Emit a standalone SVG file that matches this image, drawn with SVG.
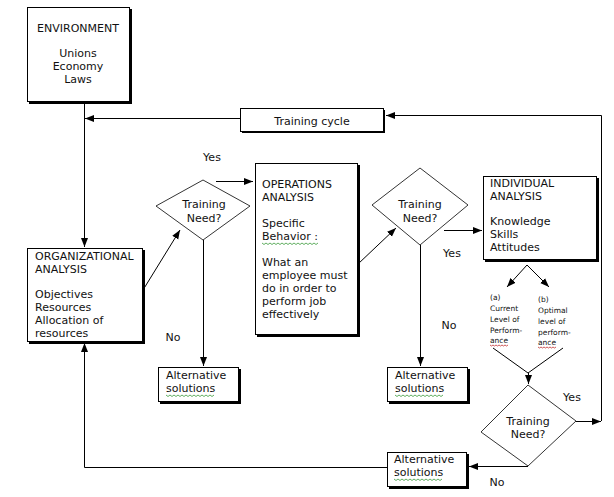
<svg xmlns="http://www.w3.org/2000/svg" width="614" height="497" viewBox="0 0 614 497">
<style>
text{font-family:"DejaVu Sans",Verdana,sans-serif;font-size:11px;fill:#111}
.c{text-anchor:middle}
.s{font-size:7.5px}
.box{fill:#fff;stroke:#000;stroke-width:1}
.sh{fill:#000}
.ln{fill:none;stroke:#000;stroke-width:1}
.dm{fill:#fff;stroke:#000;stroke-width:0.8}
.wg{fill:none;stroke:#3a9a3a;stroke-width:0.8}
.wr{fill:none;stroke:#c03030;stroke-width:0.8}
</style>
<defs>
<marker id="ah" markerWidth="10" markerHeight="8" refX="9" refY="4" orient="auto" markerUnits="userSpaceOnUse">
<path d="M0,0.5 L9,4 L0,7.5 Z" fill="#000"/>
</marker>
</defs>
<rect width="614" height="497" fill="#fff"/>

<g id="environment">
<rect class="sh" x="29" y="9" width="103" height="95"/>
<rect class="box" x="27.5" y="7.5" width="102" height="94"/>
<text class="c" x="78" y="32">ENVIRONMENT</text>
<text class="c" x="78" y="57">Unions</text>
<text class="c" x="78" y="70">Economy</text>
<text class="c" x="78" y="83">Laws</text>
</g>

<g id="training-cycle">
<rect class="sh" x="242" y="110" width="143" height="23"/>
<rect class="box" x="240.5" y="108.5" width="143" height="23"/>
<text class="c" x="312" y="125">Training cycle</text>
</g>

<g id="organizational">
<rect class="sh" x="29" y="250" width="116" height="94"/>
<rect class="box" x="27.5" y="248.5" width="115" height="93"/>
<text x="35" y="260">ORGANIZATIONAL</text>
<text x="35" y="273">ANALYSIS</text>
<text x="35" y="298">Objectives</text>
<text x="35" y="311">Resources</text>
<text x="35" y="324">Allocation of</text>
<text x="35" y="337">resources</text>
</g>

<g id="decision1">
<polygon class="dm" points="203,180 250,206 203,240 156,206"/>
<text class="c" x="204" y="208">Training</text>
<text class="c" x="204" y="222">Need?</text>
</g>

<g id="operations">
<rect class="sh" x="257" y="165" width="103" height="172"/>
<rect class="box" x="255.5" y="163.5" width="102" height="171"/>
<text x="262" y="188">OPERATIONS</text>
<text x="262" y="201">ANALYSIS</text>
<text x="262" y="227">Specific</text>
<text x="262" y="240">Behavior :</text>
<path class="wg" d="M262,243 l2,1.5 l2,-1.5 l2,1.5 l2,-1.5 l2,1.5 l2,-1.5 l2,1.5 l2,-1.5 l2,1.5 l2,-1.5 l2,1.5 l2,-1.5 l2,1.5 l2,-1.5 l2,1.5 l2,-1.5 l2,1.5 l2,-1.5 l2,1.5 l2,-1.5 l2,1.5 l2,-1.5 l2,1.5 l2,-1.5 l2,1.5 l2,-1.5 l2,1.5 l2,-1.5"/>
<text x="262" y="266">What an</text>
<text x="262" y="279">employee must</text>
<text x="262" y="292">do in order to</text>
<text x="262" y="305">perform job</text>
<text x="262" y="318">effectively</text>
</g>

<g id="decision2">
<polygon class="dm" points="420,168 468,205 420,245 372,205"/>
<text class="c" x="420" y="208">Training</text>
<text class="c" x="420" y="222">Need?</text>
</g>

<g id="individual">
<rect class="sh" x="485" y="178" width="114" height="84"/>
<rect class="box" x="483.5" y="176.5" width="113" height="83"/>
<text x="490" y="187">INDIVIDUAL</text>
<text x="490" y="200">ANALYSIS</text>
<text x="490" y="225">Knowledge</text>
<text x="490" y="238">Skills</text>
<text x="490" y="251">Attitudes</text>
</g>

<g id="current-level">
<text class="s" x="490" y="300">(a)</text>
<text class="s" x="490" y="311">Current</text>
<text class="s" x="490" y="322">Level of</text>
<text class="s" x="490" y="333">Perform-</text>
<text class="s" x="490" y="343">ance</text>
<path class="wr" d="M490,345 l1.5,1 l1.5,-1 l1.5,1 l1.5,-1 l1.5,1 l1.5,-1 l1.5,1 l1.5,-1 l1.5,1 l1.5,-1 l1.5,1 l1.5,-1"/>
</g>

<g id="optimal-level">
<text class="s" x="538" y="302">(b)</text>
<text class="s" x="538" y="313">Optimal</text>
<text class="s" x="538" y="324">level of</text>
<text class="s" x="538" y="335">perform-</text>
<text class="s" x="538" y="345">ance</text>
<path class="wr" d="M538,347 l1.5,1 l1.5,-1 l1.5,1 l1.5,-1 l1.5,1 l1.5,-1 l1.5,1 l1.5,-1 l1.5,1 l1.5,-1 l1.5,1 l1.5,-1"/>
</g>

<g id="decision3">
<polygon class="dm" points="528,385 576,421 528,466 481,432"/>
<text class="c" x="528" y="425">Training</text>
<text class="c" x="528" y="438">Need?</text>
</g>

<g id="alt1">
<rect class="sh" x="160" y="369" width="81" height="35"/>
<rect class="box" x="158.5" y="367.5" width="80" height="34"/>
<text x="166" y="379">Alternative</text>
<text x="166" y="392">solutions</text>
<path class="wg" d="M166,395 l2,1.5 l2,-1.5 l2,1.5 l2,-1.5 l2,1.5 l2,-1.5 l2,1.5 l2,-1.5 l2,1.5 l2,-1.5 l2,1.5 l2,-1.5 l2,1.5 l2,-1.5 l2,1.5 l2,-1.5 l2,1.5 l2,-1.5 l2,1.5 l2,-1.5 l2,1.5 l2,-1.5 l2,1.5 l2,-1.5"/>
</g>

<g id="alt2">
<rect class="sh" x="389" y="369" width="81" height="35"/>
<rect class="box" x="387.5" y="367.5" width="80" height="34"/>
<text x="395" y="379">Alternative</text>
<text x="395" y="392">solutions</text>
<path class="wg" d="M395,395 l2,1.5 l2,-1.5 l2,1.5 l2,-1.5 l2,1.5 l2,-1.5 l2,1.5 l2,-1.5 l2,1.5 l2,-1.5 l2,1.5 l2,-1.5 l2,1.5 l2,-1.5 l2,1.5 l2,-1.5 l2,1.5 l2,-1.5 l2,1.5 l2,-1.5 l2,1.5 l2,-1.5 l2,1.5 l2,-1.5"/>
</g>

<g id="alt3">
<rect class="sh" x="389" y="454" width="80" height="35"/>
<rect class="box" x="387.5" y="452.5" width="79" height="34"/>
<text x="394" y="463">Alternative</text>
<text x="394" y="476">solutions</text>
<path class="wg" d="M394,479 l2,1.5 l2,-1.5 l2,1.5 l2,-1.5 l2,1.5 l2,-1.5 l2,1.5 l2,-1.5 l2,1.5 l2,-1.5 l2,1.5 l2,-1.5 l2,1.5 l2,-1.5 l2,1.5 l2,-1.5 l2,1.5 l2,-1.5 l2,1.5 l2,-1.5 l2,1.5 l2,-1.5 l2,1.5 l2,-1.5"/>
</g>

<g id="connectors">
<line class="ln" x1="84.5" y1="104" x2="84.5" y2="247" marker-end="url(#ah)"/>
<line class="ln" x1="240" y1="118.5" x2="85" y2="118.5" marker-end="url(#ah)"/>
<line class="ln" x1="143" y1="290" x2="180" y2="230" marker-end="url(#ah)"/>
<line class="ln" x1="216" y1="181.5" x2="253" y2="181.5" marker-end="url(#ah)"/>
<line class="ln" x1="203.5" y1="240" x2="203.5" y2="366" marker-end="url(#ah)"/>
<line class="ln" x1="358" y1="264" x2="396" y2="228" marker-end="url(#ah)"/>
<line class="ln" x1="420.5" y1="245" x2="420.5" y2="366" marker-end="url(#ah)"/>
<line class="ln" x1="444" y1="230.5" x2="482" y2="230.5" marker-end="url(#ah)"/>
<line class="ln" x1="527" y1="265" x2="507" y2="287" marker-end="url(#ah)"/>
<line class="ln" x1="527" y1="265" x2="549" y2="287" marker-end="url(#ah)"/>
<polyline class="ln" points="493,348 528,373 563,348"/>
<line class="ln" x1="528.5" y1="373" x2="528.5" y2="384" marker-end="url(#ah)"/>
<line class="ln" x1="576" y1="421.5" x2="601" y2="421.5" marker-end="url(#ah)"/>
<polyline class="ln" points="601.5,421 601.5,115.5 386,115.5" marker-end="url(#ah)"/>
<line class="ln" x1="528" y1="466.5" x2="469" y2="466.5" marker-end="url(#ah)"/>
<polyline class="ln" points="387,467.5 84.5,467.5 84.5,343" marker-end="url(#ah)"/>
</g>

<g id="labels">
<text class="c" x="212" y="161">Yes</text>
<text class="c" x="173" y="341">No</text>
<text class="c" x="452" y="257">Yes</text>
<text class="c" x="449" y="329">No</text>
<text class="c" x="572" y="401">Yes</text>
<text class="c" x="497" y="486">No</text>
</g>
</svg>
